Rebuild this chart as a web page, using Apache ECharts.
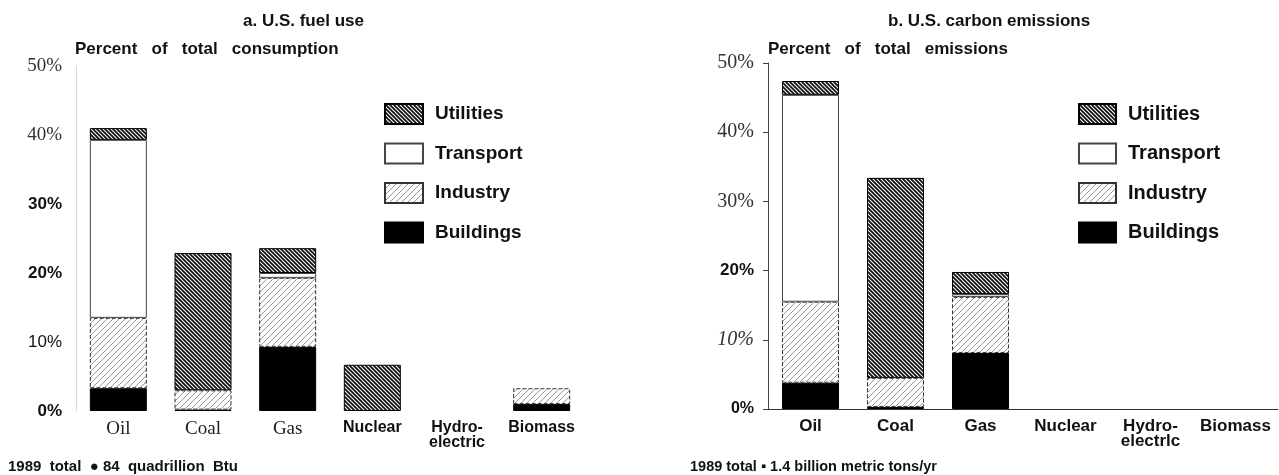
<!DOCTYPE html>
<html>
<head>
<meta charset="utf-8">
<script src="https://cdn.jsdelivr.net/npm/echarts@6/dist/echarts.min.js"></script>
<style>
html, body { margin: 0; padding: 0; background: #fff; }
#main { width: 1279px; height: 475px; }
</style>
</head>
<body>
<div id="main"></div>
<script>
var categories = ['Oil', 'Coal', 'Gas', 'Nuclear', 'Hydro-\nelectric', 'Biomass'];
var rightCategories = ['Oil', 'Coal', 'Gas', 'Nuclear', 'Hydro-\nelectrlc', 'Biomass'];
var yTicks = [0, 10, 20, 30, 40, 50];

// a. fuel use, percent of total consumption
var fuelBuildings = [3.3, 0.2, 9.3, 0, 0, 1.0];
var fuelIndustry = [10.2, 2.8, 10.0, 0, 0, 2.3];
var fuelTransport = [25.8, 0, 0.7, 0, 0, 0];
var fuelUtilities = [1.7, 19.9, 3.6, 6.7, 0, 0];

// b. carbon emissions, percent of total emissions
var carbonBuildings = [3.8, 0.3, 8.1, 0, 0, 0];
var carbonIndustry = [11.7, 4.2, 8.1, 0, 0, 0];
var carbonTransport = [29.9, 0, 0.4, 0, 0, 0];
var carbonUtilities = [2.0, 28.9, 3.2, 0, 0, 0];

function hatch(dir, s, w, color) {
    var c = document.createElement('canvas');
    c.width = s; c.height = s;
    var g = c.getContext('2d');
    g.fillStyle = '#fff';
    g.fillRect(0, 0, s, s);
    g.strokeStyle = color;
    g.lineWidth = w;
    g.beginPath();
    if (dir === '/') {
        g.moveTo(-1, s + 1); g.lineTo(s + 1, -1);
        g.moveTo(-1, 1); g.lineTo(1, -1);
        g.moveTo(s - 1, s + 1); g.lineTo(s + 1, s - 1);
    } else {
        g.moveTo(-1, -1); g.lineTo(s + 1, s + 1);
        g.moveTo(s - 1, -1); g.lineTo(s + 1, 1);
        g.moveTo(-1, s - 1); g.lineTo(1, s + 1);
    }
    g.stroke();
    return { image: c, repeat: 'repeat' };
}

var utilStyle = { color: hatch('\\', 4, 1.8, '#111'), borderColor: '#000', borderWidth: 1 };
var transStyle = { color: '#fff', borderColor: '#444', borderWidth: 1 };
var indStyle = { color: hatch('/', 6, 1, '#999'), borderColor: '#333', borderWidth: 1, borderType: 'dashed' };
var bldStyle = { color: '#000', borderColor: '#000', borderWidth: 1 };

function nz(arr) {
    return arr.map(function (v) { return v === 0 ? '-' : v; });
}

function mk(name, data, style, idx) {
    return {
        name: name, type: 'bar', stack: 's' + idx,
        xAxisIndex: idx, yAxisIndex: idx,
        barWidth: 57, data: nz(data), itemStyle: style,
        emphasis: { disabled: true }
    };
}

var serif = '"Liberation Serif", "DejaVu Serif", serif';
var sans = '"Liberation Sans", Arial, sans-serif';

var leftY = {
    y0: { fontFamily: sans, fontWeight: 'bold', fontSize: 17, color: '#111' },
    y10: { fontFamily: sans, fontSize: 17, color: '#111' },
    y20: { fontFamily: sans, fontWeight: 'bold', fontSize: 17, color: '#111' },
    y30: { fontFamily: sans, fontWeight: 'bold', fontSize: 17, color: '#111' },
    y40: { fontFamily: serif, fontSize: 19, color: '#333' },
    y50: { fontFamily: serif, fontSize: 19, color: '#333' }
};
var rightY = {
    y0: { fontFamily: sans, fontWeight: 'bold', fontSize: 16, color: '#111' },
    y10: { fontFamily: serif, fontStyle: 'italic', fontSize: 20, color: '#333' },
    y20: { fontFamily: sans, fontWeight: 'bold', fontSize: 17, color: '#111' },
    y30: { fontFamily: serif, fontSize: 20, color: '#333' },
    y40: { fontFamily: serif, fontSize: 20, color: '#333' },
    y50: { fontFamily: serif, fontSize: 20, color: '#333' }
};

var heading = { fontFamily: sans, fontWeight: 'bold', fontSize: 17, color: '#111' };

var chart = echarts.init(document.getElementById('main'));
var option = {
    animation: false,
    backgroundColor: '#fff',
    title: [
        { text: 'a. U.S. fuel use', left: 238, top: 8, textStyle: heading },
        { text: 'Percent   of   total   consumption', left: 70, top: 36, textStyle: heading },
        { text: 'b. U.S. carbon emissions', left: 883, top: 8, textStyle: heading },
        { text: 'Percent   of   total   emissions', left: 763, top: 36, textStyle: heading },
        { text: '1989  total  \u25cf 84  quadrillion  Btu', left: 3, top: 454,
          textStyle: { fontFamily: sans, fontWeight: 'bold', fontSize: 15, color: '#111' } },
        { text: '1989 total \u25aa 1.4 billion metric tons/yr', left: 685, top: 454,
          textStyle: { fontFamily: sans, fontWeight: 'bold', fontSize: 14.5, color: '#111' } }
    ],
    legend: [
        { left: 379, top: 98, orient: 'vertical', icon: 'rect', itemWidth: 38, itemHeight: 20, itemGap: 17.5,
          data: ['Utilities', 'Transport', 'Industry', 'Buildings'],
          textStyle: { fontFamily: sans, fontWeight: 'bold', fontSize: 19, lineHeight: 20, color: '#111',
                       padding: [0, 0, 0, 7] } },
        { left: 1073, top: 98, orient: 'vertical', icon: 'rect', itemWidth: 37, itemHeight: 20, itemGap: 17.5,
          data: ['Utilities', 'Transport', 'Industry', 'Buildings'],
          textStyle: { fontFamily: sans, fontWeight: 'bold', fontSize: 20, lineHeight: 20, color: '#111',
                       padding: [0, 0, 0, 7] } }
    ],
    grid: [
        { left: 76, top: 66, width: 508, height: 345 },
        { left: 768, top: 63, width: 510, height: 346 }
    ],
    xAxis: [
        { type: 'category', gridIndex: 0, data: categories,
          axisLine: { show: false }, axisTick: { show: false },
          axisLabel: { margin: 9, interval: 0,
            formatter: function (v, i) { return i < 3 ? '{s|' + v + '}' : '{b|' + v + '}'; },
            rich: {
                s: { fontFamily: serif, fontSize: 19, color: '#222' },
                b: { fontFamily: sans, fontWeight: 'bold', fontSize: 16, color: '#111', lineHeight: 15 }
            } } },
        { type: 'category', gridIndex: 1, data: rightCategories,
          axisLine: { lineStyle: { color: '#333', width: 1 } }, axisTick: { show: false },
          axisLabel: { margin: 10, interval: 0, fontFamily: sans, fontWeight: 'bold', fontSize: 17,
            color: '#111', lineHeight: 15 } }
    ],
    yAxis: [
        { type: 'value', gridIndex: 0, min: 0, max: 50, interval: 10,
          splitLine: { show: false },
          axisLine: { show: true, lineStyle: { color: '#d8d8d8' } }, axisTick: { show: false },
          axisLabel: { margin: 14, formatter: function (v) { return '{y' + v + '|' + v + '%}'; }, rich: leftY } },
        { type: 'value', gridIndex: 1, min: 0, max: 50, interval: 10,
          splitLine: { show: false },
          axisLine: { show: true, lineStyle: { color: '#444' } },
          axisTick: { show: true, length: 5, lineStyle: { color: '#444' } },
          axisLabel: { margin: 14, formatter: function (v) { return '{y' + v + '|' + v + '%}'; }, rich: rightY } }
    ],
    series: [
        mk('Buildings', fuelBuildings, bldStyle, 0),
        mk('Industry', fuelIndustry, indStyle, 0),
        mk('Transport', fuelTransport, transStyle, 0),
        mk('Utilities', fuelUtilities, utilStyle, 0),
        mk('Buildings', carbonBuildings, bldStyle, 1),
        mk('Industry', carbonIndustry, indStyle, 1),
        mk('Transport', carbonTransport, transStyle, 1),
        mk('Utilities', carbonUtilities, utilStyle, 1)
    ]
};
chart.setOption(option);
</script>
</body>
</html>
